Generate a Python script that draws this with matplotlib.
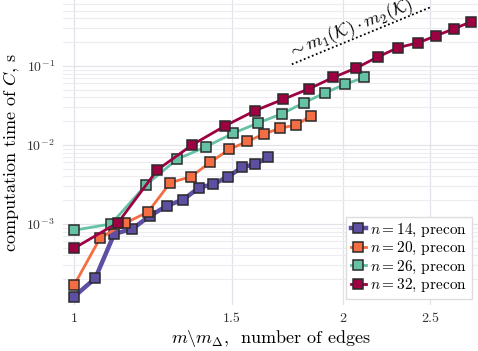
import matplotlib
matplotlib.use("Agg")
import matplotlib.pyplot as plt
from matplotlib.ticker import FixedLocator, NullFormatter, LogLocator, NullLocator

plt.rcParams['font.family'] = 'serif'
plt.rcParams['font.serif'] = ['cmr10']
plt.rcParams['mathtext.fontset'] = 'cm'
plt.rcParams['axes.formatter.use_mathtext'] = True
plt.rcParams['axes.unicode_minus'] = False

# data
x14 = [1.000, 1.056, 1.109, 1.161, 1.216, 1.271, 1.324, 1.380, 1.431, 1.487, 1.542, 1.594, 1.649]
y14 = [1.20e-4, 2.05e-4, 7.5e-4, 8.6e-4, 1.27e-3, 1.70e-3, 2.03e-3, 2.88e-3, 3.18e-3, 3.97e-3, 5.22e-3, 5.70e-3, 6.99e-3]

x20 = [1.000, 1.069, 1.140, 1.210, 1.281, 1.352, 1.420, 1.491, 1.562, 1.632, 1.700, 1.772, 1.842]
y20 = [1.68e-4, 6.59e-4, 1.02e-3, 1.42e-3, 3.33e-3, 3.97e-3, 6.04e-3, 8.77e-3, 1.11e-2, 1.38e-2, 1.63e-2, 1.79e-2, 2.35e-2]

x26 = [1.000, 1.100, 1.204, 1.304, 1.405, 1.507, 1.607, 1.709, 1.809, 1.910, 2.011, 2.112]
y26 = [8.32e-4, 1.00e-3, 3.14e-3, 6.59e-3, 9.52e-3, 1.41e-2, 1.90e-2, 2.49e-2, 3.43e-2, 4.59e-2, 5.87e-2, 7.19e-2]

x32 = [1.000, 1.120, 1.239, 1.355, 1.476, 1.594, 1.714, 1.833, 1.949, 2.069, 2.189, 2.305, 2.427, 2.542, 2.663, 2.782]
y32 = [4.92e-4, 1.04e-3, 4.83e-3, 1.00e-2, 1.75e-2, 2.72e-2, 3.79e-2, 5.16e-2, 7.15e-2, 9.44e-2, 0.131, 0.171, 0.197, 0.242, 0.297, 0.364]

series = [
    (x14, y14, r'$n=14$, precon', '#5e4fa2', 3.2),
    (x20, y20, r'$n=20$, precon', '#f46d43', 2.0),
    (x26, y26, r'$n=26$, precon', '#66c2a5', 2.0),
    (x32, y32, r'$n=32$, precon', '#9e0142', 2.0),
]

xticks = [1, 1.5, 2, 2.5]
xticklabels = ['1', '1.5', '2', '2.5']
yticks = [1e-3, 1e-2, 1e-1]
yticklabels = [r'$10^{-3}$', r'$10^{-2}$', r'$10^{-1}$']

guide_x = [1.752, 2.503]
guide_y = [0.105, 0.553]

fig = plt.figure(figsize=(4.78, 3.51), dpi=100)
ax = fig.add_axes([0.132, 0.131, 0.868, 0.869])
ax.set_xscale('log')
ax.set_yscale('log')

for xs, ys, lab, col, lw in series:
    ax.plot(xs, ys, '-s', color=col, lw=lw, ms=6.5, mec='#2a2a2a', mew=1.1,
            label=lab, zorder=3)

ax.plot(guide_x, guide_y, linestyle=(0, (1, 1.4)), color='black', lw=1.3, zorder=3)
ax.text(1.742, 0.127, r'$\sim m_1(\mathcal{K})\cdot m_2(\mathcal{K})$', fontsize=13,
        rotation=21.5, rotation_mode='anchor', ha='left', va='baseline')

ax.set_xlim(0.972, 2.83)
ax.set_ylim(9.4e-5, 0.684)

ax.xaxis.set_major_locator(FixedLocator(xticks))
ax.xaxis.set_minor_locator(NullLocator())
ax.set_xticklabels(xticklabels)
ax.xaxis.set_minor_formatter(NullFormatter())

ax.yaxis.set_major_locator(FixedLocator(yticks))
ax.set_yticklabels(yticklabels)
ax.yaxis.set_minor_locator(LogLocator(base=10, subs=range(2, 10)))
ax.yaxis.set_minor_formatter(NullFormatter())

ax.tick_params(which='both', length=0, labelsize=10, colors='#333333', pad=6)
ax.grid(True, which='major', color='#e2e2ea', lw=0.9)
ax.grid(True, which='minor', axis='y', color='#ececf2', lw=0.8)
ax.set_axisbelow(True)
for s in ax.spines.values():
    s.set_visible(False)

ax.set_xlabel(r'$m\backslash m_\Delta$,  number of edges', fontsize=13, labelpad=2)
ax.set_ylabel(r'computation time of $C$, s', fontsize=13, labelpad=4)

leg = ax.legend(loc='lower right', fontsize=11, handlelength=1.0, handletextpad=0.3,
                borderpad=0.3, labelspacing=0.1, fancybox=False, framealpha=1,
                edgecolor='#dddddd', borderaxespad=0.4)

fig.savefig('out.png', dpi=100)
